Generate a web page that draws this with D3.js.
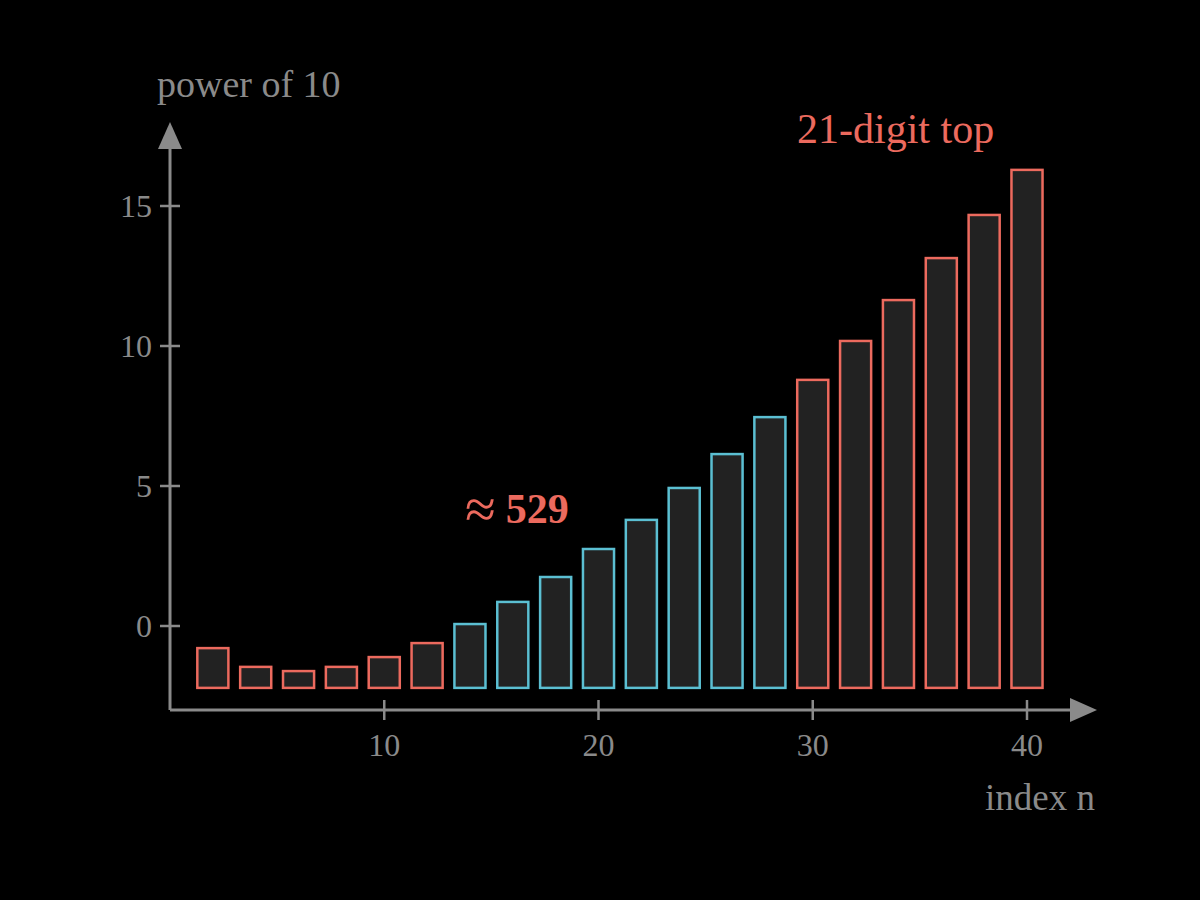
<!DOCTYPE html>
<html>
<head>
<meta charset="utf-8">
<script src="https://cdn.jsdelivr.net/npm/d3@7"></script>
<style>
  html, body { margin: 0; padding: 0; background: #000; }
  svg text { font-family: "Liberation Serif", "DejaVu Serif", serif; }
</style>
</head>
<body>
<svg id="chart" width="1200" height="900"></svg>
<script>
// data
const indices = [2, 4, 6, 8, 10, 12, 14, 16, 18, 20, 22, 24, 26, 28, 30, 32, 34, 36, 38, 40]
const powers = [-0.79, -1.46, -1.61, -1.46, -1.11, -0.61, 0.07, 0.86, 1.75, 2.75,
                3.79, 4.93, 6.14, 7.46, 8.79, 10.18, 11.64, 13.14, 14.68, 16.29]
const highlight = [14, 16, 18, 20, 22, 24, 26, 28] // the cyan group
const xTicks = [10, 20, 30, 40]
const yTicks = [0, 5, 10, 15]

const grey = "#8a8a8a"
const red = "#ec6a5e"
const cyan = "#5bbfd2"

const svg = d3.select("#chart")
svg.append("rect").attr("width", 1200).attr("height", 900).attr("fill", "#000")

// scales: 0 at x=170, 40 at x=1027; 0 at y=626, 15 at y=206
const x = d3.scaleLinear().domain([0, 40]).range([170, 1027])
const y = d3.scaleLinear().domain([0, 15]).range([626, 206])

const baseVal = -2.21   // bars start here
const axisVal = -3.0    // x axis sits here
const barW = 1.45       // in index units

// bars
svg.append("g")
  .selectAll("rect")
  .data(indices.map((n, i) => ({ n: n, v: powers[i] })))
  .enter()
  .append("rect")
  .attr("x", d => x(d.n - barW / 2))
  .attr("width", d => x(barW) - x(0))
  .attr("y", d => y(d.v))
  .attr("height", d => y(baseVal) - y(d.v))
  .attr("fill", "#222")
  .attr("stroke", d => highlight.includes(d.n) ? cyan : red)
  .attr("stroke-width", 2.5)

// axes
const axes = svg.append("g")
const x0 = x(0), yAxis = y(axisVal)

axes.append("line")
  .attr("x1", x0).attr("x2", 1075)
  .attr("y1", yAxis).attr("y2", yAxis)
  .attr("stroke", grey).attr("stroke-width", 3)
axes.append("path")
  .attr("d", `M1097,${yAxis} L1070,${yAxis - 12} L1070,${yAxis + 12} Z`)
  .attr("fill", grey)

axes.append("line")
  .attr("x1", x0).attr("x2", x0)
  .attr("y1", yAxis).attr("y2", 146)
  .attr("stroke", grey).attr("stroke-width", 3)
axes.append("path")
  .attr("d", `M${x0},122 L${x0 - 12},149 L${x0 + 12},149 Z`)
  .attr("fill", grey)

// x ticks
axes.selectAll(".xt")
  .data(xTicks)
  .enter()
  .append("line")
  .attr("x1", d => x(d)).attr("x2", d => x(d))
  .attr("y1", yAxis - 10).attr("y2", yAxis + 10)
  .attr("stroke", grey).attr("stroke-width", 2.5)
axes.selectAll(".xl")
  .data(xTicks)
  .enter()
  .append("text")
  .attr("x", d => x(d))
  .attr("y", 756)
  .attr("text-anchor", "middle")
  .attr("fill", grey)
  .attr("font-size", 32)
  .text(d => d)

// y ticks
axes.selectAll(".yt")
  .data(yTicks)
  .enter()
  .append("line")
  .attr("x1", x0 - 10).attr("x2", x0 + 10)
  .attr("y1", d => y(d)).attr("y2", d => y(d))
  .attr("stroke", grey).attr("stroke-width", 2.5)
axes.selectAll(".yl")
  .data(yTicks)
  .enter()
  .append("text")
  .attr("x", 152)
  .attr("y", d => y(d) + 11)
  .attr("text-anchor", "end")
  .attr("fill", grey)
  .attr("font-size", 32)
  .text(d => d)

// axis titles
svg.append("text")
  .attr("x", 157).attr("y", 97)
  .attr("fill", grey).attr("font-size", 38)
  .text("power of 10")
svg.append("text")
  .attr("x", 1095).attr("y", 810)
  .attr("text-anchor", "end")
  .attr("fill", grey).attr("font-size", 37)
  .text("index n")

// annotations
const approx = svg.append("text")
  .attr("x", 465).attr("y", 523)
  .attr("fill", red).attr("font-size", 42).attr("font-weight", "bold")
approx.append("tspan").attr("font-size", 56).attr("font-weight", "normal").attr("dy", 5).text("≈")
approx.append("tspan").attr("dx", 10).attr("dy", -5).text("529")

svg.append("text")
  .attr("x", 797).attr("y", 143)
  .attr("fill", red).attr("font-size", 42)
  .text("21-digit top")
</script>
</body>
</html>
